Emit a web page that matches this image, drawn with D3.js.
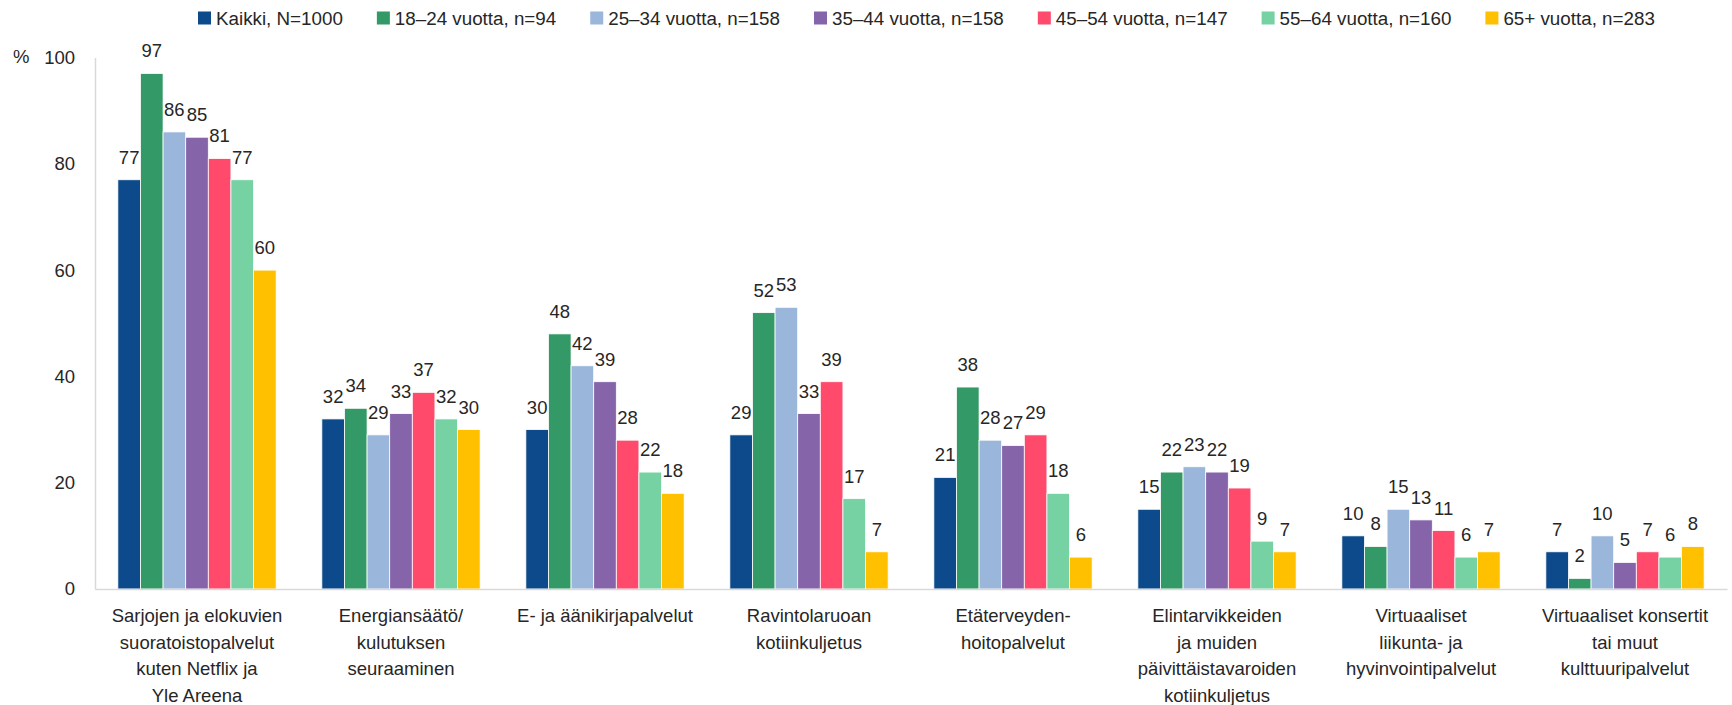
<!DOCTYPE html>
<html><head><meta charset="utf-8">
<script src="https://cdn.jsdelivr.net/npm/d3@7"></script>
<style>
html,body{margin:0;padding:0;background:#fff;}
svg{display:block;font-family:"Liberation Sans",Arial,sans-serif;}
</style></head>
<body>
<svg id="chart" width="1732" height="705"></svg>
<script>
const categories = [
  ["Sarjojen ja elokuvien","suoratoistopalvelut","kuten Netflix ja","Yle Areena"],
  ["Energiansäätö/","kulutuksen","seuraaminen"],
  ["E- ja äänikirjapalvelut"],
  ["Ravintolaruoan","kotiinkuljetus"],
  ["Etäterveyden-","hoitopalvelut"],
  ["Elintarvikkeiden","ja muiden","päivittäistavaroiden","kotiinkuljetus"],
  ["Virtuaaliset","liikunta- ja","hyvinvointipalvelut"],
  ["Virtuaaliset konsertit","tai muut","kulttuuripalvelut"]
];
const seriesNames = ["Kaikki, N=1000","18–24 vuotta, n=94","25–34 vuotta, n=158","35–44 vuotta, n=158","45–54 vuotta, n=147","55–64 vuotta, n=160","65+ vuotta, n=283"];
const kaikki = [77,32,30,29,21,15,10,7];
const v18_24 = [97,34,48,52,38,22,8,2];
const v25_34 = [86,29,42,53,28,23,15,10];
const v35_44 = [85,33,39,33,27,22,13,5];
const v45_54 = [81,37,28,39,29,19,11,7];
const v55_64 = [77,32,22,17,18,9,6,6];
const v65 = [60,30,18,7,6,7,7,8];
const yTicks = [0,20,40,60,80,100];
const colors = ["#0D4A8B","#339966","#9BB6DB","#8564AA","#FF4A6C","#76D2A3","#FFC000"];

(function(){
const seriesValues = [kaikki,v18_24,v25_34,v35_44,v45_54,v55_64,v65];
const svg = d3.select("#chart");
const pLeft = 95, pRight = 1727, pTop = 57.5, pBottom = 589;
const textColor = "#262626";

const x0 = d3.scaleBand().domain(d3.range(categories.length)).range([pLeft, pRight]).paddingInner(0.224).paddingOuter(0.112);
const x1 = d3.scaleBand().domain(d3.range(seriesNames.length)).range([0, x0.bandwidth()]).padding(0);
const y = d3.scaleLinear().domain([0,100]).range([pBottom, pTop]);

// bars
const groups = svg.append("g").selectAll("g").data(categories).join("g")
  .attr("transform", (d,i) => `translate(${x0(i)},0)`);
groups.each(function(c, ci){
  const g = d3.select(this);
  seriesValues.forEach((vals, si) => {
    g.append("rect")
      .attr("x", x1(si)).attr("width", x1.bandwidth())
      .attr("y", y(vals[ci])).attr("height", y(0) - y(vals[ci]))
      .attr("fill", colors[si]).attr("stroke", "#fff").attr("stroke-width", 0.8);
    g.append("text")
      .attr("x", x1(si) + x1.bandwidth()/2).attr("y", y(vals[ci]) - 16)
      .attr("text-anchor", "middle").attr("font-size", 18.5).attr("fill", textColor)
      .text(vals[ci]);
  });
});

// axes
const yAxis = d3.axisLeft(y).tickValues(yTicks).tickSize(0).tickPadding(20);
const ya = svg.append("g").attr("transform", `translate(${pLeft},0)`).call(yAxis);
ya.select(".domain").attr("stroke", "#D9D9D9").attr("stroke-width", 1.5);
ya.selectAll("text").attr("font-size", 18.5).attr("fill", textColor).attr("font-family", "Liberation Sans, Arial, sans-serif");

const xAxis = d3.axisBottom(x0).tickSize(0).tickFormat("");
const xa = svg.append("g").attr("transform", `translate(0,${pBottom})`).call(xAxis);
xa.select(".domain").attr("stroke", "#D9D9D9").attr("stroke-width", 1.5);

// category labels
categories.forEach((lines, i) => {
  const t = svg.append("text").attr("text-anchor", "middle").attr("font-size", 18.5).attr("fill", textColor);
  lines.forEach((ln, j) => {
    t.append("tspan").attr("x", x0(i) + x0.bandwidth()/2).attr("y", 622 + j*26.5).text(ln);
  });
});

// % label
svg.append("text").attr("x", 13).attr("y", 63).attr("font-size", 18.5).attr("fill", textColor).text("%");

// legend
const lg = svg.append("g");
let lx = 198;
seriesNames.forEach((name, i) => {
  lg.append("rect").attr("x", lx).attr("y", 11.5).attr("width", 13).attr("height", 13).attr("fill", colors[i]);
  const t = lg.append("text").attr("x", lx + 18).attr("y", 24.5).attr("font-size", 18.8).attr("fill", textColor).text(name);
  lx += 18 + t.node().getComputedTextLength() + 34;
});
})();
</script>
</body></html>
